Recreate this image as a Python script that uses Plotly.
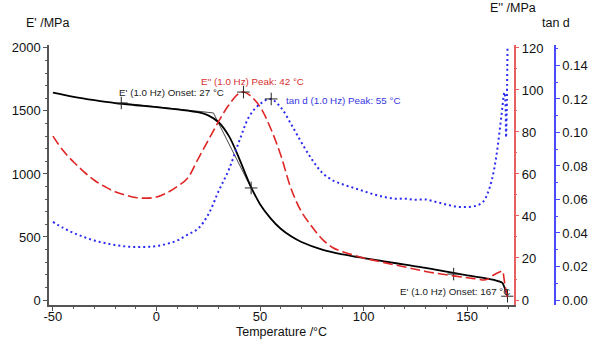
import plotly.graph_objects as go

# ---- data ----
T_storage = [-50, -40, -30, -20, -10, 0, 10, 20, 25, 30, 35, 40, 45, 50, 55, 60, 65, 70,
             80, 90, 100, 110, 120, 130, 140, 150, 160, 165, 167, 168, 169, 169.5]
E_storage = [1645, 1612, 1585, 1562, 1545, 1530, 1512, 1490, 1465, 1410, 1300, 1120, 920, 760,
             650, 565, 505, 460, 400, 362, 333, 307, 280, 255, 225, 195, 170, 150, 135, 100, 56, 30]

T_loss = [-50, -45, -40, -35, -30, -25, -20, -15, -10, -5, 0, 5, 10, 15, 20, 25, 30, 35, 40, 42,
          45, 50, 55, 60, 65, 70, 75, 80, 85, 90, 100, 110, 120, 130, 140, 150, 155, 158, 160,
          163, 166, 167, 168, 169, 169.5]
E_loss = [78, 71, 65.7, 61, 57, 54, 51.5, 50, 48.8, 48.5, 49, 51, 54, 58, 67, 76, 85, 93, 98.5, 99,
          97.5, 92, 82, 69, 53, 42, 35, 29, 25, 23, 20, 17.8, 15.7, 13.6, 12, 10.6, 10, 9.5, 10,
          12, 13.5, 13.8, 9, 3, 1]

T_tand = [-50, -45, -40, -35, -30, -25, -20, -15, -10, -5, 0, 5, 10, 15, 20, 25, 30, 35, 40, 45,
          50, 55, 60, 65, 70, 75, 80, 85, 90, 95, 100, 105, 110, 115, 120, 125, 130, 135, 140,
          145, 150, 155, 158, 160, 162, 164, 166, 167, 168, 168.5, 168.8, 169.1, 169.5]
tand = [0.0466, 0.043, 0.040, 0.0376, 0.0355, 0.034, 0.0328, 0.032, 0.0316, 0.0317, 0.0322,
        0.0335, 0.0355, 0.039, 0.0425, 0.051, 0.065, 0.078, 0.095, 0.110, 0.117, 0.120, 0.115,
        0.105, 0.094, 0.084, 0.076, 0.0715, 0.069, 0.067, 0.065, 0.063, 0.0615, 0.0605, 0.0605,
        0.0598, 0.060, 0.0585, 0.0570, 0.0557, 0.0555, 0.0565, 0.059, 0.064, 0.072, 0.085, 0.104,
        0.115, 0.124, 0.118, 0.097, 0.112, 0.150]

# tangent construction for the first onset
T_tangent = [-17, 27.5, 45.7]
E_tangent = [1563, 1484, 889]

# evaluation markers (+)
T_mark_E = [-17, 45.7, 143.5, 169.5]
E_mark_E = [1563, 889, 206, 30]
T_mark_loss = [42]
E_mark_loss = [99]
T_mark_tand = [55.4]
tand_mark = [0.120]

labels = ["E' (1.0 Hz) Onset: 27 °C", "E'' (1.0 Hz) Peak: 42 °C",
          "tan d (1.0 Hz) Peak: 55 °C", "E' (1.0 Hz) Onset: 167 °C"]
label_T = [-19, 20.5, 61.4, 116.7]
label_E = [1643, 1730, 1579, 71]

x_ticks = [-50, 0, 50, 100, 150]
x_ticktext = ["-50", "0", "50", "100", "150"]

RED = "#e02525"
BLUE = "#2b2bf2"
FONT = "Liberation Sans, Arial, sans-serif"

fig = go.Figure()
fig.add_trace(go.Scatter(x=T_tangent, y=E_tangent, mode="lines",
                         line=dict(color="#333333", width=0.9), yaxis="y", hoverinfo="skip"))
fig.add_trace(go.Scatter(x=T_loss, y=E_loss, mode="lines", line_shape="spline",
                         line=dict(color=RED, width=1.6, dash="10px,4px"), yaxis="y2"))
fig.add_trace(go.Scatter(x=T_tand, y=tand, mode="lines", line_shape="spline",
                         line=dict(color=BLUE, width=2, dash="2px,3px"), yaxis="y3"))
fig.add_trace(go.Scatter(x=T_storage, y=E_storage, mode="lines", line_shape="spline",
                         line=dict(color="black", width=1.8), yaxis="y"))
mk = dict(symbol="cross-thin", size=9, line=dict(color="#222222", width=1))
fig.add_trace(go.Scatter(x=T_mark_E, y=E_mark_E, mode="markers", marker=mk, yaxis="y"))
fig.add_trace(go.Scatter(x=T_mark_loss, y=E_mark_loss, mode="markers", marker=mk, yaxis="y2"))
fig.add_trace(go.Scatter(x=T_mark_tand, y=tand_mark, mode="markers", marker=mk, yaxis="y3"))

colors = ["#222222", "#d83030", "#3535e0", "#222222"]
for t, x, y, c in zip(labels, label_T, label_E, colors):
    fig.add_annotation(x=x, y=y, xref="x", yref="y", text=t, showarrow=False,
                       xanchor="left", yanchor="middle", font=dict(size=9.8, color=c, family=FONT))

for t, x, y, xa in [("E' /MPa", 0.0429, 1.085, "right"), ("E'' /MPa", 0.867, 1.142, "left"),
                    ("tan d", 0.971, 1.085, "left")]:
    fig.add_annotation(x=x, y=y, xref="paper", yref="paper", text=t, showarrow=False,
                       xanchor=xa, yanchor="middle",
                       font=dict(size=12.5, color="#111111", family=FONT))
fig.add_annotation(x=0.459, y=-0.103, xref="paper", yref="paper", text="Temperature /°C",
                   showarrow=False, xanchor="center", yanchor="middle",
                   font=dict(size=12.5, color="#111111", family=FONT))

axis_common = dict(showgrid=False, zeroline=False, showline=True, linewidth=1.5,
                   ticks="outside", ticklen=4, tickwidth=1,
                   tickfont=dict(size=13, color="#111111", family=FONT))

fig.update_layout(
    width=600, height=339,
    margin=dict(l=48, r=39, t=45, b=34),
    paper_bgcolor="white", plot_bgcolor="white",
    showlegend=False,
    font=dict(family=FONT),
    xaxis=dict(domain=[0, 0.918], range=[-51.9, 172.4], tickvals=x_ticks, ticktext=x_ticktext,
               linecolor="#555555", tickcolor="#555555", ticklabelstandoff=-5,
               minor=dict(dtick=10, tick0=0, ticks="outside", ticklen=2, tickcolor="#555555"),
               **axis_common),
    yaxis=dict(range=[-39.7, 2023], dtick=500, tick0=0,
               linecolor="#555555", tickcolor="#555555",
               minor=dict(dtick=100, tick0=0, ticks="outside", ticklen=2, tickcolor="#555555"),
               **axis_common),
    yaxis2=dict(range=[-2.38, 121.4], dtick=20, tick0=0, overlaying="y", side="right", anchor="x",
                linecolor="#e86060", tickcolor="#e86060",
                minor=dict(dtick=10, tick0=0, ticks="outside", ticklen=2, tickcolor="#e86060"),
                **axis_common),
    yaxis3=dict(range=[-0.00298, 0.1522], dtick=0.02, tick0=0, tickformat=".2f",
                overlaying="y", side="right", anchor="free", position=1.0,
                linecolor="#4a4aff", tickcolor="#4a4aff",
                minor=dict(dtick=0.01, tick0=0, ticks="outside", ticklen=2, tickcolor="#4a4aff"),
                **axis_common),
)

fig.write_html("out.html")
